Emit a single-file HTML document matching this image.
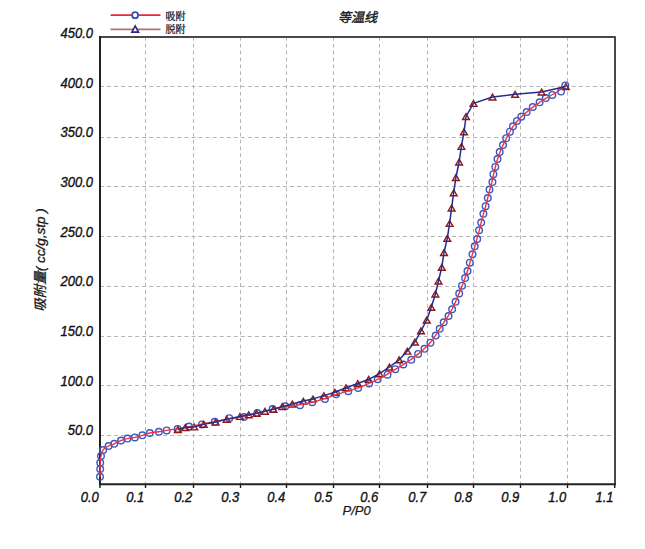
<!DOCTYPE html><html><head><meta charset="utf-8"><style>html,body{margin:0;padding:0;background:#fff;}svg{display:block}.n{font-family:"Liberation Sans",Arial,sans-serif;font-size:14px;font-style:italic;fill:#111;stroke:#111;stroke-width:0.35px}.t{font-family:"Liberation Sans","Noto Sans CJK SC",sans-serif;font-style:italic;fill:#1a1a1a}</style></head><body>
<svg width="645" height="549" viewBox="0 0 645 549">
<g stroke="#b4b4b4" stroke-width="1" stroke-dasharray="3.8 3.04" fill="none"><line x1="145.5" y1="37" x2="145.5" y2="484.2"/><line x1="193.5" y1="37" x2="193.5" y2="484.2"/><line x1="240.5" y1="37" x2="240.5" y2="484.2"/><line x1="286.5" y1="37" x2="286.5" y2="484.2"/><line x1="333.5" y1="37" x2="333.5" y2="484.2"/><line x1="379.5" y1="37" x2="379.5" y2="484.2"/><line x1="427.5" y1="37" x2="427.5" y2="484.2"/><line x1="473.5" y1="37" x2="473.5" y2="484.2"/><line x1="520.5" y1="37" x2="520.5" y2="484.2"/><line x1="567.5" y1="37" x2="567.5" y2="484.2"/></g>
<g stroke="#b4b4b4" stroke-width="1" stroke-dasharray="4 3.04" fill="none"><line x1="100" y1="86.5" x2="615" y2="86.5"/><line x1="100" y1="137.5" x2="615" y2="137.5"/><line x1="100" y1="186.5" x2="615" y2="186.5"/><line x1="100" y1="236.5" x2="615" y2="236.5"/><line x1="100" y1="286.5" x2="615" y2="286.5"/><line x1="100" y1="336.5" x2="615" y2="336.5"/><line x1="100" y1="385.5" x2="615" y2="385.5"/><line x1="100" y1="435.5" x2="615" y2="435.5"/></g>
<g stroke="#1a1a1a" stroke-width="1.4"><line x1="100" y1="484.2" x2="100" y2="488"/><line x1="145.5" y1="484.2" x2="145.5" y2="488"/><line x1="193.5" y1="484.2" x2="193.5" y2="488"/><line x1="240.5" y1="484.2" x2="240.5" y2="488"/><line x1="286.5" y1="484.2" x2="286.5" y2="488"/><line x1="333.5" y1="484.2" x2="333.5" y2="488"/><line x1="379.5" y1="484.2" x2="379.5" y2="488"/><line x1="427.5" y1="484.2" x2="427.5" y2="488"/><line x1="473.5" y1="484.2" x2="473.5" y2="488"/><line x1="520.5" y1="484.2" x2="520.5" y2="488"/><line x1="567.5" y1="484.2" x2="567.5" y2="488"/><line x1="614.7" y1="484.2" x2="614.7" y2="488"/></g>
<path d="M100 37H615V484.2" fill="none" stroke="#484848" stroke-width="2" stroke-linejoin="round"/>
<path d="M100 36V484.2H616" fill="none" stroke="#222" stroke-width="2"/>
<g fill="none" stroke="#3c57be" stroke-width="1.4"><circle cx="100" cy="476.8" r="3.3"/><circle cx="100.2" cy="469" r="3.3"/><circle cx="100.2" cy="462.8" r="3.3"/><circle cx="101" cy="456" r="3.3"/><circle cx="103.1" cy="450.1" r="3.3"/><circle cx="108.6" cy="446" r="3.3"/><circle cx="114.2" cy="443.8" r="3.3"/><circle cx="121" cy="440.5" r="3.3"/><circle cx="127.5" cy="438.6" r="3.3"/><circle cx="134.9" cy="437.4" r="3.3"/><circle cx="142.4" cy="435.3" r="3.3"/><circle cx="149.8" cy="433" r="3.3"/><circle cx="158.9" cy="431.8" r="3.3"/><circle cx="166.7" cy="430.4" r="3.3"/><circle cx="177.6" cy="428.9" r="3.3"/><circle cx="189" cy="426.5" r="3.3"/><circle cx="202" cy="424.4" r="3.3"/><circle cx="214.7" cy="421.8" r="3.3"/><circle cx="229.3" cy="418.2" r="3.3"/><circle cx="244" cy="417" r="3.3"/><circle cx="257.3" cy="413" r="3.3"/><circle cx="272.6" cy="409.1" r="3.3"/><circle cx="285.4" cy="406.3" r="3.3"/><circle cx="300" cy="405.2" r="3.3"/><circle cx="312.2" cy="402.2" r="3.3"/><circle cx="325" cy="399" r="3.3"/><circle cx="336.1" cy="394.2" r="3.3"/><circle cx="348.3" cy="391.2" r="3.3"/><circle cx="358.2" cy="388" r="3.3"/><circle cx="369.1" cy="383.5" r="3.3"/><circle cx="377.7" cy="379.2" r="3.3"/><circle cx="387.5" cy="374.7" r="3.3"/><circle cx="395.3" cy="369.2" r="3.3"/><circle cx="403.3" cy="364.5" r="3.3"/><circle cx="411.3" cy="359.8" r="3.3"/><circle cx="418.1" cy="353.9" r="3.3"/><circle cx="424.5" cy="348.8" r="3.3"/><circle cx="430.4" cy="342.7" r="3.3"/><circle cx="435.7" cy="335.6" r="3.3"/><circle cx="439.7" cy="328.8" r="3.3"/><circle cx="443.7" cy="322.3" r="3.3"/><circle cx="448.5" cy="316" r="3.3"/><circle cx="452.1" cy="309.3" r="3.3"/><circle cx="455.6" cy="301.8" r="3.3"/><circle cx="459.2" cy="293.5" r="3.3"/><circle cx="462" cy="285.7" r="3.3"/><circle cx="465.1" cy="278.1" r="3.3"/><circle cx="467.5" cy="271" r="3.3"/><circle cx="469.8" cy="262.7" r="3.3"/><circle cx="472.5" cy="254.3" r="3.3"/><circle cx="474.7" cy="246.3" r="3.3"/><circle cx="477.2" cy="239" r="3.3"/><circle cx="479.1" cy="230.3" r="3.3"/><circle cx="481.2" cy="222.6" r="3.3"/><circle cx="483.4" cy="213.8" r="3.3"/><circle cx="485.6" cy="206.2" r="3.3"/><circle cx="487.8" cy="198" r="3.3"/><circle cx="489.5" cy="189.6" r="3.3"/><circle cx="492.4" cy="182.1" r="3.3"/><circle cx="493.4" cy="174.2" r="3.3"/><circle cx="495.3" cy="166.9" r="3.3"/><circle cx="497.5" cy="159.1" r="3.3"/><circle cx="499.7" cy="152.1" r="3.3"/><circle cx="503" cy="145.1" r="3.3"/><circle cx="506.2" cy="138.2" r="3.3"/><circle cx="509.9" cy="131.7" r="3.3"/><circle cx="513" cy="126.3" r="3.3"/><circle cx="517" cy="120.9" r="3.3"/><circle cx="521.3" cy="116.7" r="3.3"/><circle cx="526.7" cy="112.1" r="3.3"/><circle cx="532.8" cy="107" r="3.3"/><circle cx="539.6" cy="102.3" r="3.3"/><circle cx="545.8" cy="98.1" r="3.3"/><circle cx="552.3" cy="94.9" r="3.3"/><circle cx="561" cy="91.6" r="3.3"/><circle cx="565.3" cy="85.4" r="3.3"/></g>
<g fill="none" stroke="#8e1616" stroke-width="1.4" stroke-linejoin="miter"><path d="M565.8 83.7L569.2 89.5L562.4 89.5Z"/><path d="M541.6 89.2L545 95L538.2 95Z"/><path d="M515.1 91.5L518.5 97.3L511.7 97.3Z"/><path d="M492.5 94.2L495.9 100L489.1 100Z"/><path d="M473.5 100.6L476.9 106.4L470.1 106.4Z"/><path d="M466 113.7L469.4 119.5L462.6 119.5Z"/><path d="M464 129L467.4 134.8L460.6 134.8Z"/><path d="M461.4 143.6L464.8 149.4L458 149.4Z"/><path d="M459.1 159.2L462.5 165L455.7 165Z"/><path d="M455.9 174.7L459.3 180.5L452.5 180.5Z"/><path d="M453.7 189.9L457.1 195.7L450.3 195.7Z"/><path d="M451.6 205.2L455 211L448.2 211Z"/><path d="M449.6 220.6L453 226.4L446.2 226.4Z"/><path d="M447.3 235.5L450.7 241.3L443.9 241.3Z"/><path d="M444 249.7L447.4 255.5L440.6 255.5Z"/><path d="M441.8 264.4L445.2 270.2L438.4 270.2Z"/><path d="M438.5 278.2L441.9 284L435.1 284Z"/><path d="M435.4 291.2L438.8 297L432 297Z"/><path d="M431.3 304.5L434.7 310.3L427.9 310.3Z"/><path d="M426.7 317.2L430.1 323L423.3 323Z"/><path d="M421 328L424.4 333.8L417.6 333.8Z"/><path d="M414.9 339.2L418.3 345L411.5 345Z"/><path d="M407.3 348.3L410.7 354.1L403.9 354.1Z"/><path d="M399.2 357L402.6 362.8L395.8 362.8Z"/><path d="M389.4 364.2L392.8 370L386 370Z"/><path d="M379.5 370.9L382.9 376.7L376.1 376.7Z"/><path d="M368.7 376.5L372.1 382.3L365.3 382.3Z"/><path d="M357.8 380.7L361.2 386.5L354.4 386.5Z"/><path d="M346 384.9L349.4 390.7L342.6 390.7Z"/><path d="M334.9 389.4L338.3 395.2L331.5 395.2Z"/><path d="M323.9 392.8L327.3 398.6L320.5 398.6Z"/><path d="M313 396.1L316.4 401.9L309.6 401.9Z"/><path d="M303.3 398.3L306.7 404.1L299.9 404.1Z"/><path d="M292.3 401.2L295.7 407L288.9 407Z"/><path d="M282.3 403.7L285.7 409.5L278.9 409.5Z"/><path d="M273.4 406.4L276.8 412.2L270 412.2Z"/><path d="M265 408.4L268.4 414.2L261.6 414.2Z"/><path d="M256.6 410.5L260 416.3L253.2 416.3Z"/><path d="M248.7 411.9L252.1 417.7L245.3 417.7Z"/><path d="M239.9 413.6L243.3 419.4L236.5 419.4Z"/><path d="M226.7 416.4L230.1 422.2L223.3 422.2Z"/><path d="M215.6 419.3L219 425.1L212.2 425.1Z"/><path d="M203.7 421.5L207.1 427.3L200.3 427.3Z"/><path d="M194.2 424.1L197.6 429.9L190.8 429.9Z"/><path d="M185.3 424.7L188.7 430.5L181.9 430.5Z"/><path d="M177.9 426.7L181.3 432.5L174.5 432.5Z"/></g>
<path fill="none" stroke="#ea3448" stroke-width="1.4" stroke-linejoin="round" d="M100 476.8C100.1 474.2 100.1 473.7 100.2 469C100.3 464.3 99.9 467.1 100.2 462.8C100.5 458.5 100 460.2 101 456C102 451.8 100.6 453.4 103.1 450.1C105.6 446.8 104.9 448.1 108.6 446C112.3 443.9 110.1 445.6 114.2 443.8C118.3 442 116.6 442.2 121 440.5C125.4 438.8 122.9 439.6 127.5 438.6C132.1 437.6 129.9 438.5 134.9 437.4C139.9 436.3 137.4 436.8 142.4 435.3C147.4 433.8 144.3 434.2 149.8 433C155.3 431.8 153.3 432.7 158.9 431.8C164.5 430.9 160.4 431.4 166.7 430.4C173 429.4 170.2 429.9 177.7 428.7C185.3 427.4 181.3 428 189.4 426.6C197.5 425.1 193.3 425.9 201.9 424.3C210.5 422.6 206 423.4 215.2 421.6C224.3 419.7 219.8 420.6 229.3 418.8C238.8 417.1 234.2 418.2 243.6 416.3C253.1 414.4 248.4 415.3 257.8 413C267.2 410.7 262.6 411.5 272 409.4C281.3 407.3 276.7 408.3 285.9 406.7C295 405.2 290.6 406.3 299.4 404.7C308.2 403.2 304 404.2 312.4 402.1C320.7 400.1 316.6 401.1 324.6 398.6C332.6 396.1 328.7 397.1 336.4 394.7C344.1 392.2 340.4 393.5 347.7 391.1C355.1 388.8 351.5 390.2 358.5 387.7C365.4 385.1 362 386.4 368.5 383.6C375 380.7 371.8 382.2 378 379.2C384.2 376.1 381.2 377.7 387 374.4C392.8 371.2 389.9 372.7 395.3 369.4C400.8 366.1 398.1 367.8 403.3 364.5C408.5 361.2 406.1 363 411 359.5C415.9 356 413.5 357.7 418 354.1C422.5 350.4 420.3 352.4 424.4 348.6C428.5 344.7 426.6 346.7 430.2 342.5C433.9 338.2 432.2 340.2 435.4 335.7C438.5 331.1 436.9 333.3 439.7 328.9C442.5 324.4 441.1 326.7 443.9 322.4C446.7 318 445.5 320.3 448.2 315.9C450.9 311.5 449.6 313.9 452.1 309.1C454.6 304.3 453.3 306.8 455.6 301.6C457.9 296.4 456.9 298.9 459 293.6C461.1 288.3 460.1 290.9 462.1 285.8C464.1 280.6 463.1 283.2 464.9 278.2C466.7 273.2 465.8 275.9 467.5 270.7C469.1 265.5 468.3 268.1 469.9 262.7C471.5 257.2 470.8 259.8 472.4 254.4C474 249 473.2 251.7 474.8 246.5C476.3 241.2 475.6 244 477 238.6C478.5 233.3 477.8 236 479.2 230.6C480.5 225.1 479.8 227.8 481.2 222.3C482.6 216.8 481.9 219.5 483.4 214.1C484.9 208.7 484.2 211.4 485.6 206.1C487 200.7 486.3 203.4 487.7 198C489.1 192.5 488.4 195.1 489.8 189.8C491.2 184.5 490.6 187.2 491.9 182C493.2 176.8 492.5 179.4 493.6 174.3C494.8 169.3 494.1 171.8 495.4 166.8C496.7 161.8 496 164.2 497.5 159.3C499 154.4 498.2 156.8 500 152.1C501.8 147.4 500.9 149.7 503 145.1C505.1 140.5 504.1 142.7 506.3 138.3C508.6 133.9 507.4 136 509.8 132C512 128 510.8 129.9 513.2 126.3C515.7 122.7 514.3 124.4 517.1 121.2C519.9 118 518.3 119.7 521.6 116.6C524.8 113.5 523.1 115.1 526.9 112C530.7 108.8 528.8 110.3 533 107.1C537.2 103.9 535.2 105.3 539.5 102.4C543.8 99.5 541.5 101 545.9 98.3C550.3 95.7 547.9 97.3 552.6 94.5C557.3 91.7 555.8 93 560 90C564.2 87 563.5 86.9 565.3 85.4"/>
<polyline fill="none" stroke="#222e8a" stroke-width="1.5" stroke-linejoin="round" points="565.8,86.5 541.6,92 515.1,94.3 492.5,97 473.5,103.4 466,116.5 464,131.8 461.4,146.4 459.1,162 455.9,177.5 453.7,192.7 451.6,208 449.6,223.4 447.3,238.3 444,252.5 441.8,267.2 438.5,281 435.4,294 431.3,307.3 426.7,320 421,330.8 414.9,342 407.3,351.1 399.2,359.8 389.4,367 379.5,373.7 368.7,379.3 357.8,383.5 346,387.7 334.9,392.2 323.9,395.6 313,398.9 303.3,401.1 292.3,404 282.3,406.5 273.4,409.2 265,411.2 256.6,413.3 248.7,414.7 239.9,416.4 226.7,419.2 215.6,422.1 203.7,424.3 194.2,426.9 185.3,427.5 177.9,429.5"/>
<text class="n" transform="translate(93 37.8) scale(0.93 1)" text-anchor="end">450.0</text>
<text class="n" transform="translate(93 87.5) scale(0.93 1)" text-anchor="end">400.0</text>
<text class="n" transform="translate(93 137.2) scale(0.93 1)" text-anchor="end">350.0</text>
<text class="n" transform="translate(93 186.9) scale(0.93 1)" text-anchor="end">300.0</text>
<text class="n" transform="translate(93 236.6) scale(0.93 1)" text-anchor="end">250.0</text>
<text class="n" transform="translate(93 286.2) scale(0.93 1)" text-anchor="end">200.0</text>
<text class="n" transform="translate(93 335.9) scale(0.93 1)" text-anchor="end">150.0</text>
<text class="n" transform="translate(93 385.6) scale(0.93 1)" text-anchor="end">100.0</text>
<text class="n" transform="translate(93 435.3) scale(0.93 1)" text-anchor="end">50.0</text>
<text class="n" transform="translate(98.8 501.6) scale(0.93 1)" text-anchor="end">0.0</text>
<text class="n" transform="translate(144.3 501.6) scale(0.93 1)" text-anchor="end">0.1</text>
<text class="n" transform="translate(192.3 501.6) scale(0.93 1)" text-anchor="end">0.2</text>
<text class="n" transform="translate(239.3 501.6) scale(0.93 1)" text-anchor="end">0.3</text>
<text class="n" transform="translate(285.3 501.6) scale(0.93 1)" text-anchor="end">0.4</text>
<text class="n" transform="translate(332.3 501.6) scale(0.93 1)" text-anchor="end">0.5</text>
<text class="n" transform="translate(378.3 501.6) scale(0.93 1)" text-anchor="end">0.6</text>
<text class="n" transform="translate(426.3 501.6) scale(0.93 1)" text-anchor="end">0.7</text>
<text class="n" transform="translate(472.3 501.6) scale(0.93 1)" text-anchor="end">0.8</text>
<text class="n" transform="translate(519.3 501.6) scale(0.93 1)" text-anchor="end">0.9</text>
<text class="n" transform="translate(566.3 501.6) scale(0.93 1)" text-anchor="end">1.0</text>
<text class="n" transform="translate(613.5 501.6) scale(0.93 1)" text-anchor="end">1.1</text>
<text class="t" x="342.5" y="515" font-size="13" stroke="#1a1a1a" stroke-width="0.25">P/P0</text>
<text class="t" transform="translate(45.3 260.1) rotate(-90)" text-anchor="middle" font-size="13.5" stroke="#1a1a1a" stroke-width="0.35">吸附量( cc/g,stp )</text>
<text class="t" x="357.4" y="22" text-anchor="middle" font-size="13" stroke="#222" stroke-width="0.45">等温线</text>
<line x1="110.6" y1="15.2" x2="160.5" y2="15.2" stroke="#e8283c" stroke-width="1.8"/>
<circle cx="135.1" cy="15.2" r="3" fill="#fff" stroke="#3550b8" stroke-width="1.8"/>
<line x1="110.6" y1="29.4" x2="160.5" y2="29.4" stroke="#a87474" stroke-width="1.8"/>
<path d="M135.2 25.9L138.5 32.1L131.9 32.1Z" fill="#fff" stroke="#25287e" stroke-width="1.6"/>
<text x="165.5" y="19.6" font-family="'Noto Serif CJK SC','Noto Sans CJK SC',serif" font-size="10" fill="#111" stroke="#111" stroke-width="0.25">吸附</text>
<text x="165.5" y="33.4" font-family="'Noto Serif CJK SC','Noto Sans CJK SC',serif" font-size="10" fill="#111" stroke="#111" stroke-width="0.25">脱附</text>
</svg></body></html>
